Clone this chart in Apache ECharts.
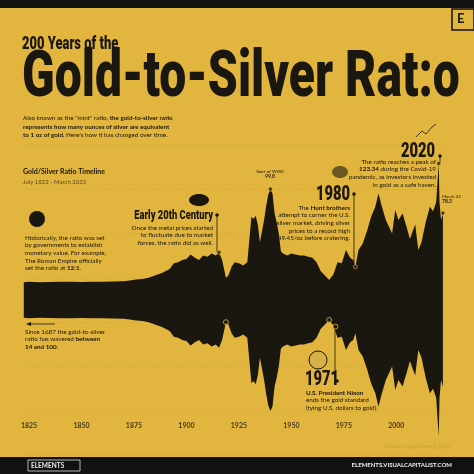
<!DOCTYPE html>
<html><head><meta charset="utf-8">
<script src="https://cdn.jsdelivr.net/npm/echarts@6/dist/echarts.min.js"></script>
<style>html,body{margin:0;padding:0;background:#E2B63E}#c{width:474px;height:474px}</style>
</head><body><div id="c"></div>
<script>
// Gold/Silver ratio, [year, ratio]
const years = [1822.5,1825,1830,1835,1840,1845,1850,1855,1860,1865,1870,1873,1876,1879,1882,1885,1888,1890,1892,1894,1896,1898,1900,1902,1904,1906,1908,1910,1912,1914,1915.5,1917,1918.8,1920,1921.5,1923,1925,1927,1929,1930,1931,1932,1933,1934,1935,1936,1937,1938,1939,1940,1941,1942,1943,1944,1945,1946,1948,1950,1952,1954,1956,1958,1960,1962,1964,1966,1968,1970,1972,1974,1976,1978,1979.5,1980.5,1982,1984,1986,1988,1990,1991.5,1993,1995,1996.5,1998,1999.5,2001,2003,2005,2006.5,2008,2009,2010.5,2012,2014,2016,2017.5,2019,2020.2,2020.6,2021.3,2022.2];
const ratios = [16,16.5,16,16.2,16.4,16.5,16.3,16.4,16.5,16.6,16.8,17.5,18.5,19,20,22,24,26,28,33,34,36,37,41,38,36,40,39,42,40,43,36,20,22,30,34,33,31,34,55,75,73,76,68,52,62,72,85,95,100,96,78,70,60,44,42,40,42,41,40,40,39,38,34,26,22,18,23,34,33,45,38,36,30,45,51,62,75,84,96,85,72,66,60,81,72,78,65,55,63,68,45,52,70,84,80,88,123,88,72,78.3];
const tickYears = [1825,1850,1875,1900,1925,1950,1975,2000];
const notesTop = [[1915.5,43],[1940,100],[1980.5,30],[2020.2,123],[2022.2,78.3]];
const notesBottom = [[1918.8,20],[1968,18],[1971,24]];

const up = years.map((y,i)=>[y,ratios[i]]);
const down = years.map((y,i)=>[y,-ratios[i]]);
const ink = '#1a1610';
const F = 'Lato, "Open Sans", sans-serif';
const N = 'Roboto, sans-serif';
function t(x,y,text,o,sx){const e={type:'text',x:x,y:y,style:Object.assign({text:text,fill:ink,font:'7px '+F},o||{})};if(sx){e.scaleX=sx;}return e;}
function ln(x1,y1,x2,y2,w){return {type:'line',shape:{x1,y1,x2,y2},style:{stroke:ink,lineWidth:w||0.8}};}
const chart = echarts.init(document.getElementById('c'));
chart.setOption({
  backgroundColor:'#E2B63E',
  animation:false,
  grid:{left:23.8,right:31.1,top:144.6,height:310.8},
  xAxis:{type:'value',min:1822.5,max:2022.2,axisLine:{show:false},axisTick:{show:false},splitLine:{show:false},
    axisLabel:{show:false}},
  yAxis:{type:'value',min:-140,max:140,show:true,axisLabel:{show:false},axisLine:{show:false},axisTick:{show:false},
    splitLine:{show:true,lineStyle:{type:'dotted',color:'rgba(150,110,30,0.25)',width:0.6}},interval:40},
  series:[
    {type:'line',data:up,symbol:'none',lineStyle:{width:0},areaStyle:{color:ink,opacity:1,origin:0},smooth:false},
    {type:'line',data:down,symbol:'none',lineStyle:{width:0},areaStyle:{color:ink,opacity:1,origin:0}},
    {type:'scatter',data:notesTop,symbolSize:4,itemStyle:{color:ink,borderColor:'#E2B63E',borderWidth:0.8},z:5},
    {type:'scatter',data:notesBottom.map(d=>[d[0],-d[1]]),symbolSize:5,itemStyle:{color:ink,borderColor:'#E2B63E',borderWidth:1},z:5},
    {type:'scatter',data:tickYears.map(y=>[y,-113]),symbolSize:0,
      label:{show:true,position:'inside',formatter:p=>p.value[0],color:ink,fontSize:7,fontFamily:F,fontWeight:'bold'}}
  ],
  graphic:[
    {type:'rect',shape:{x:0,y:0,width:474,height:8},style:{fill:'#111'}},
    {type:'rect',shape:{x:0,y:457,width:474,height:17},style:{fill:'#111'}},
    {type:'rect',shape:{x:452,y:9,width:22,height:21},style:{fill:'none',stroke:'#111',lineWidth:1.5}},
    t(457,12,'E',{font:'bold 13px '+F}),
    t(22,35,'200 Years of the',{font:'900 18px '+N},0.72),
    t(22,48,'Gold-to-Silver Rat:o',{font:'900 64px '+N},0.75),
    t(23,114,'Also known as the "mint" ratio, {b|the gold-to-silver ratio}\n{b|represents how many ounces of silver are equivalent}\n{b|to 1 oz of gold.} Here\'s how it has changed over time.',
      {font:'6.3px '+F,lineHeight:8.5,rich:{b:{font:'bold 6.3px '+F,fill:ink}}}),
    t(23,168,'Gold/Silver Ratio Timeline',{font:'bold 7px '+F}),
    t(23,179,'July 1822 - March 2022',{font:'6px '+F,fill:'#5c4a1c'}),
    {type:'circle',shape:{cx:37,cy:219,r:8},style:{fill:ink}},
    t(25,234,'Historically, the ratio was set\nby governments to establish\nmonetary value. For example,\nThe Roman Empire officially\nset the ratio at {b|12:1}.',{font:'6.3px '+F,lineHeight:7.6,rich:{b:{font:'bold 6.3px '+F,fill:ink}}}),
    t(213,209,'Early 20th Century',{font:'900 13px '+N,align:'right'},0.72),
    t(213,224,'Once the metal prices started\nto fluctuate due to market\nforces, the ratio did as well.',{font:'6.3px '+F,align:'right',lineHeight:7.6}),
    ln(217,215,217,252),{type:'circle',shape:{cx:217,cy:215,r:1.8},style:{fill:ink}},
    {type:'ellipse',shape:{cx:199,cy:200,rx:10,ry:6},style:{fill:ink}},
    t(270,169,'Start of WWII',{font:'4.5px '+F,align:'center'}),
    t(270,174,'99.8',{font:'bold 5px '+F,align:'center'}),
    t(350,184,'1980',{font:'900 21px '+N,align:'right'},0.7),
    {type:'circle',shape:{cx:354,cy:194,r:1.8},style:{fill:ink}},ln(354,194,354,266),
    t(350,204,'The {b|Hunt brothers}\nattempt to corner the U.S.\nsilver market, driving silver\nprices to a record high\n$49.45/oz before cratering.',{font:'6.3px '+F,align:'right',lineHeight:7.6,rich:{b:{font:'bold 6.3px '+F,fill:ink}}}),
    {type:'ellipse',shape:{cx:340,cy:172,rx:8,ry:6},style:{fill:'#6b5722'}},
    t(435,141,'2020',{font:'900 21px '+N,align:'right'},0.7),
    {type:'circle',shape:{cx:440,cy:156,r:1.8},style:{fill:ink}},ln(440,156,440,163),
    t(436,158,'The ratio reaches a peak of\n{b|123.34} during the Covid-19\npandemic, as investors invested\nin gold as a safe haven.',{font:'6.3px '+F,align:'right',lineHeight:7.6,rich:{b:{font:'bold 6.3px '+F,fill:ink}}}),
    {type:'polyline',shape:{points:[[416,137],[422,131],[426,134],[432,127],[436,124]]},style:{stroke:ink,lineWidth:0.8,fill:null}},
    t(442,194,'March 22',{font:'4.5px '+F}),
    t(442,199,'78.3',{font:'bold 5px '+F}),
    t(226,310,'End of WWI',{font:'5px '+F,fill:'#f2e2b0',align:'center'}),
    t(226,316,'18.4',{font:'bold 5.5px '+F,fill:'#f2e2b0',align:'center'}),
    t(329,306,'1968 Gold Crisis',{font:'5px '+F,fill:'#f2e2b0',align:'center'}),
    t(329,312,'16.8',{font:'bold 5.5px '+F,fill:'#f2e2b0',align:'center'}),
    ln(335,327,335,381),{type:'circle',shape:{cx:337,cy:381,r:1.8},style:{fill:ink}},
    {type:'circle',shape:{cx:318,cy:360,r:9},style:{fill:'#d8b04a',stroke:ink,lineWidth:1}},
    t(305,369,'1971',{font:'900 21px '+N},0.7),
    t(306,389,'{b|U.S. President Nixon}\nends the gold standard\n(tying U.S. dollars to gold).',{font:'6.3px '+F,lineHeight:7.6,rich:{b:{font:'bold 6.3px '+F,fill:ink}}}),
    ln(30,324,55,324,0.8),{type:'polygon',shape:{points:[[26,324],[31,322],[31,326]]},style:{fill:ink}},
    t(25,328,'Since 1687 the gold-to-silver\nratio has wavered {b|between}\n{b|14 and 100}.',{font:'6.3px '+F,lineHeight:7.6,rich:{b:{font:'bold 6.3px '+F,fill:ink}}}),
    t(450,444,'Source: Longtermtrends, Kitco',{font:'5px '+F,fill:'#c9a23a',align:'right'}),
    {type:'rect',shape:{x:28,y:460,width:52,height:11},style:{fill:'none',stroke:'#ddd',lineWidth:0.8}},
    t(31,462,'ELEMENTS',{font:'bold 6.5px '+F,fill:'#eee'}),
    t(452,462,'ELEMENTS.VISUALCAPITALIST.COM',{font:'bold 6px '+F,fill:'#eee',align:'right'})
  ]
});
</script></body></html>
